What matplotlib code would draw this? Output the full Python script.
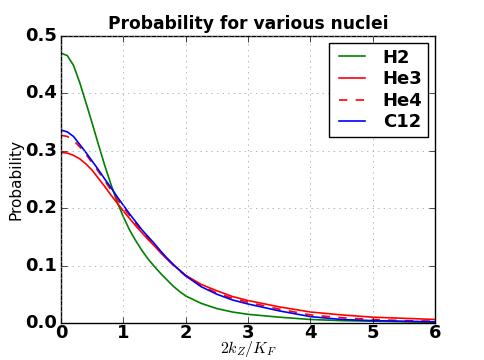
import matplotlib
matplotlib.use("Agg")
import matplotlib.pyplot as plt

# values
x = [0, 0.1, 0.2, 0.3, 0.4, 0.5, 0.6, 0.7, 0.8, 0.9, 1.0, 1.1, 1.2, 1.3, 1.4,
     1.5, 1.6, 1.7, 1.8, 1.9, 2.0, 2.25, 2.5, 2.75, 3.0, 3.5, 4.0, 4.5, 5.0,
     5.5, 6.0]
h2 = [0.470, 0.466, 0.449, 0.419, 0.384, 0.348, 0.311, 0.275, 0.242, 0.211,
      0.185, 0.162, 0.143, 0.126, 0.111, 0.098, 0.086, 0.075, 0.064, 0.055,
      0.047, 0.034, 0.025, 0.019, 0.015, 0.010, 0.006, 0.004, 0.003, 0.002,
      0.001]
he3 = [0.297, 0.296, 0.292, 0.286, 0.277, 0.266, 0.252, 0.238, 0.223, 0.209,
       0.195, 0.182, 0.169, 0.157, 0.145, 0.134, 0.122, 0.111, 0.101, 0.092,
       0.083, 0.067, 0.056, 0.046, 0.039, 0.028, 0.019, 0.014, 0.010, 0.008,
       0.006]
he4 = [0.327, 0.325, 0.318, 0.307, 0.294, 0.279, 0.264, 0.248, 0.232, 0.216,
       0.201, 0.187, 0.173, 0.160, 0.148, 0.136, 0.124, 0.112, 0.101, 0.091,
       0.082, 0.065, 0.052, 0.043, 0.036, 0.024, 0.014, 0.009, 0.006, 0.004,
       0.003]
c12 = [0.336, 0.333, 0.325, 0.311, 0.297, 0.282, 0.267, 0.251, 0.236, 0.220,
       0.205, 0.190, 0.176, 0.162, 0.150, 0.138, 0.125, 0.113, 0.102, 0.092,
       0.082, 0.063, 0.050, 0.040, 0.033, 0.021, 0.011, 0.006, 0.004, 0.003,
       0.002]

plt.style.use("classic")

fig = plt.figure(figsize=(4.84, 3.6), dpi=100)
ax = fig.add_axes([0.126, 0.103, 0.773, 0.797])

ax.plot(x, h2, color="g", lw=1.2, label="H2")
ax.plot(x, he3, color="r", lw=1.2, label="He3")
ax.plot(x, he4, color="r", lw=1.2, ls="--", label="He4")
ax.plot(x, c12, color="b", lw=1.2, label="C12")

ax.set_xlim(0, 6)
ax.set_ylim(0, 0.5)
ax.set_xticks([0, 1, 2, 3, 4, 5, 6])
ax.set_yticks([0.0, 0.1, 0.2, 0.3, 0.4, 0.5])
for lab in ax.get_xticklabels() + ax.get_yticklabels():
    lab.set_fontweight("bold")
    lab.set_fontsize(13)
ax.tick_params(axis="x", pad=1)
ax.tick_params(axis="y", pad=3)

ax.grid(True, color="0.6", ls=":")
ax.set_title("Probability for various nuclei", fontweight="bold", fontsize=12.3)
ax.set_ylabel("Probability", fontsize=11, labelpad=1)
ax.set_xlabel(r"$2k_Z/K_F$", fontsize=11.5, va="bottom")
# pin the x label to the bottom edge, tight under the tick labels
ax.xaxis.set_label_coords(0.5, -0.126)

leg = ax.legend(loc="upper right", prop={"weight": "bold", "size": 13},
                handlelength=2.0, labelspacing=0.2, borderpad=0.3,
                handletextpad=0.7, borderaxespad=0.4)

fig.savefig("out.png", dpi=100)
